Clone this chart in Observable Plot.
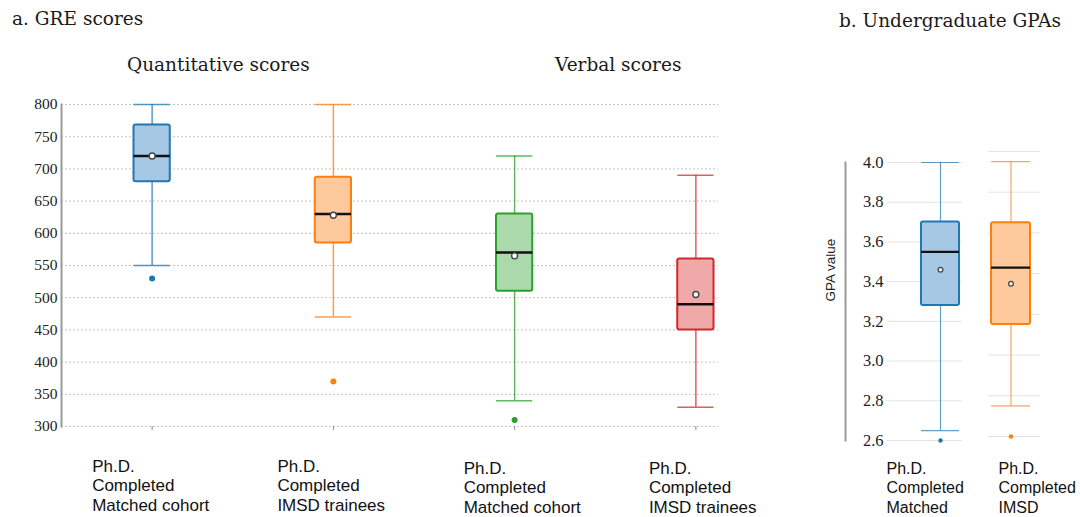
<!DOCTYPE html>
<html>
<head>
<meta charset="utf-8">
<script src="https://cdn.jsdelivr.net/npm/d3@7"></script>
<script src="https://cdn.jsdelivr.net/npm/@observablehq/plot@0.6"></script>
<style>
  html, body { margin: 0; padding: 0; background: #fff; }
  #wrap { position: relative; width: 1080px; height: 517px; overflow: hidden; background: #fff; }
  .abs { position: absolute; top: 0; }
  .title { position: absolute; font-family: "DejaVu Serif"; font-size: 18.5px; color: #1a1a1a; white-space: nowrap; line-height: 1; }
  svg { max-width: none !important; }
</style>
</head>
<body>
<div id="wrap">
  <div class="title" style="left:12px; top:10px;">a. GRE scores</div>
  <div class="title" style="left:127px; top:56px;">Quantitative scores</div>
  <div class="title" style="left:555px; top:56px;">Verbal scores</div>
  <div class="title" style="left:839px; top:12px;">b. Undergraduate GPAs</div>
  <div class="abs" id="gre" style="left:0px; width:790px;"></div>
  <div class="abs" id="gpa1" style="left:800px; width:165px;"></div>
  <div class="abs" id="gpa2" style="left:960px; width:120px;"></div>
</div>
<script>
// ---------- GRE data ----------
const greKeys = ["quant-matched", "quant-imsd", "verbal-matched", "verbal-imsd"];
const greLabels = [
  "Ph.D.\nCompleted\nMatched cohort",
  "Ph.D.\nCompleted\nIMSD trainees",
  "Ph.D.\nCompleted\nMatched cohort",
  "Ph.D.\nCompleted\nIMSD trainees"
];
const greMin    = [550, 470, 340, 330];
const greQ1     = [680, 585, 510, 450];
const greMedian = [720, 630, 570, 490];
const greQ3     = [768, 687, 630, 560];
const greMax    = [800, 800, 720, 690];
const greMean   = [720, 628, 565, 505];
const greOutlierKeys   = ["quant-matched", "quant-imsd", "verbal-matched"];
const greOutlierValues = [530, 370, 310];
const greTicks = [300, 350, 400, 450, 500, 550, 600, 650, 700, 750, 800];

// ---------- GPA data ----------
const gpaKeys = ["matched", "imsd"];
const gpaLabels = ["Ph.D.\nCompleted\nMatched", "Ph.D.\nCompleted\nIMSD"];
const gpaMin    = [2.65, 2.75];
const gpaQ1     = [3.28, 3.15];
const gpaMedian = [3.55, 3.43];
const gpaQ3     = [3.70, 3.65];
const gpaMax    = [4.00, 3.95];
const gpaMean   = [3.46, 3.35];
const gpaOutlierKeys   = ["matched", "imsd"];
const gpaOutlierValues = [2.60, 2.60];
const gpaTicks = [2.6, 2.8, 3.0, 3.2, 3.4, 3.6, 3.8, 4.0];

// ---------- styles ----------
const strokeColors = ["#1f77b4", "#ff7f0e", "#2ca02c", "#d62728"];
const fillColors   = ["#a7c8e4", "#ffc99e", "#abd9ab", "#efa9a9"];

function rowsOf(keys, labels, mn, q1, md, q3, mx, mean) {
  return keys.map((k, i) => ({
    key: k, label: labels[i], min: mn[i], q1: q1[i], median: md[i], q3: q3[i], max: mx[i], mean: mean[i],
    color: strokeColors[i], fill: fillColors[i]
  }));
}
function outsOf(keys, okeys, ovals) {
  return okeys.map((k, i) => ({ key: k, value: ovals[i], color: strokeColors[keys.indexOf(k)] }));
}

const gre = rowsOf(greKeys, greLabels, greMin, greQ1, greMedian, greQ3, greMax, greMean);
const greOut = outsOf(greKeys, greOutlierKeys, greOutlierValues);
const gpa = rowsOf(gpaKeys, gpaLabels, gpaMin, gpaQ1, gpaMedian, gpaQ3, gpaMax, gpaMean);
const gpaOut = outsOf(gpaKeys, gpaOutlierKeys, gpaOutlierValues);

function boxMarks(rows, outs, st) {
  return [
    Plot.ruleX(rows, {x: "key", y1: "min", y2: "q1", stroke: "color", strokeOpacity: st.wo, strokeWidth: st.ww}),
    Plot.ruleX(rows, {x: "key", y1: "q3", y2: "max", stroke: "color", strokeOpacity: st.wo, strokeWidth: st.ww}),
    Plot.tickY(rows, {x: "key", y: "min", stroke: "color", strokeOpacity: st.wo, strokeWidth: st.ww}),
    Plot.tickY(rows, {x: "key", y: "max", stroke: "color", strokeOpacity: st.wo, strokeWidth: st.ww}),
    Plot.barY(rows, {x: "key", y1: "q1", y2: "q3", fill: "fill", stroke: "color", strokeWidth: st.bw, rx: 2}),
    Plot.tickY(rows, {x: "key", y: "median", stroke: "#111", strokeWidth: st.mw}),
    Plot.dot(rows, {x: "key", y: "mean", r: st.mr, fill: st.mf, stroke: "#444", strokeWidth: st.msw}),
    Plot.dot(outs, {x: "key", y: "value", r: st.or, fill: "color", stroke: "none"})
  ];
}

const labelFont = "Liberation Sans";
const tickFont = "Liberation Serif";

// ---------- GRE panel ----------
const greLabelDx = [-60, -56, -51, -47];
const greLabelDy = [31, 31, 33, 33];
const grePlot = Plot.plot({
  width: 790, height: 517,
  marginLeft: 61, marginRight: 72, marginTop: 104, marginBottom: 91,
  x: {domain: greKeys, range: [61, 786], paddingInner: 0.8, paddingOuter: 0.4, align: 0.5, round: false, axis: null},
  y: {domain: [300, 800], axis: null},
  color: {type: "identity"},
  style: {background: "transparent", overflow: "visible"},
  marks: [
    Plot.gridY(greTicks, {stroke: "#c4c4c4", strokeOpacity: 1, strokeDasharray: "2,2"}),
    Plot.frame({anchor: "left", stroke: "#9a9a9a", strokeWidth: 2}),
    Plot.text(greTicks, {y: d => d, text: d => String(d), frameAnchor: "left", textAnchor: "end", dx: -4,
      fontFamily: tickFont, fontSize: 15.5, fill: "#222"}),
    Plot.axisX(greKeys, {tickSize: 4, stroke: "#888", tickFormat: () => "", label: null}),
    ...boxMarks(gre, greOut, {wo: 0.75, ww: 1.5, bw: 2, mw: 2.5, mr: 3, mf: "#fff", msw: 1.4, or: 3}),
    ...gre.map((d, i) => Plot.text([d], {
      x: "key", text: "label", frameAnchor: "bottom", lineAnchor: "top", textAnchor: "start",
      dx: greLabelDx[i], dy: greLabelDy[i], fontFamily: labelFont, fontSize: 17, lineHeight: 1.16, fill: "#111"
    }))
  ]
});
document.getElementById("gre").appendChild(grePlot);

// ---------- GPA panel (matched) ----------
const gpaStyle = {wo: 0.7, ww: 1.2, bw: 2, mw: 2.2, mr: 2.4, mf: "#eee", msw: 1.2, or: 2.2};
const gpa1 = Plot.plot({
  width: 165, height: 517,
  marginLeft: 87, marginRight: 3, marginTop: 162, marginBottom: 77,
  x: {domain: [gpaKeys[0]], range: [121, 159], padding: 0, round: false, axis: null},
  y: {domain: [2.6, 4.0], axis: null},
  color: {type: "identity"},
  style: {background: "transparent", overflow: "visible"},
  marks: [
    Plot.gridY(gpaTicks, {stroke: "#e4e4e4", strokeOpacity: 1}),
    Plot.frame({anchor: "left", dx: -42, stroke: "#9a9a9a", strokeWidth: 2}),
    Plot.text(gpaTicks, {y: d => d, text: d => d.toFixed(1), frameAnchor: "left", textAnchor: "end", dx: -4,
      fontFamily: tickFont, fontSize: 16.5, fill: "#222"}),
    Plot.text(["GPA value"], {text: d => d, frameAnchor: "left", dx: -57, rotate: -90, fontFamily: labelFont, fontSize: 13.5, fill: "#222"}),
    ...boxMarks([gpa[0]], [gpaOut[0]], gpaStyle),
    Plot.text([gpa[0]], {
      x: "key", text: "label", frameAnchor: "bottom", lineAnchor: "top", textAnchor: "start",
      dx: -54, dy: 20, fontFamily: labelFont, fontSize: 16, lineHeight: 1.2, fill: "#111"
    })
  ]
});
document.getElementById("gpa1").appendChild(gpa1);

// ---------- GPA panel (IMSD) ----------
const gpa2 = Plot.plot({
  width: 120, height: 517,
  marginLeft: 28, marginRight: 40, marginTop: 151, marginBottom: 81,
  x: {domain: [gpaKeys[1]], range: [31, 70], padding: 0, round: false, axis: null},
  y: {domain: [2.6, 4.0], axis: null},
  color: {type: "identity"},
  style: {background: "transparent", overflow: "visible"},
  marks: [
    Plot.gridY(gpaTicks, {stroke: "#e4e4e4", strokeOpacity: 1}),
    ...boxMarks([gpa[1]], [gpaOut[1]], gpaStyle),
    Plot.text([gpa[1]], {
      x: "key", text: "label", frameAnchor: "bottom", lineAnchor: "top", textAnchor: "start",
      dx: -12.5, dy: 24, fontFamily: labelFont, fontSize: 16, lineHeight: 1.2, fill: "#111"
    })
  ]
});
document.getElementById("gpa2").appendChild(gpa2);
</script>
</body>
</html>
